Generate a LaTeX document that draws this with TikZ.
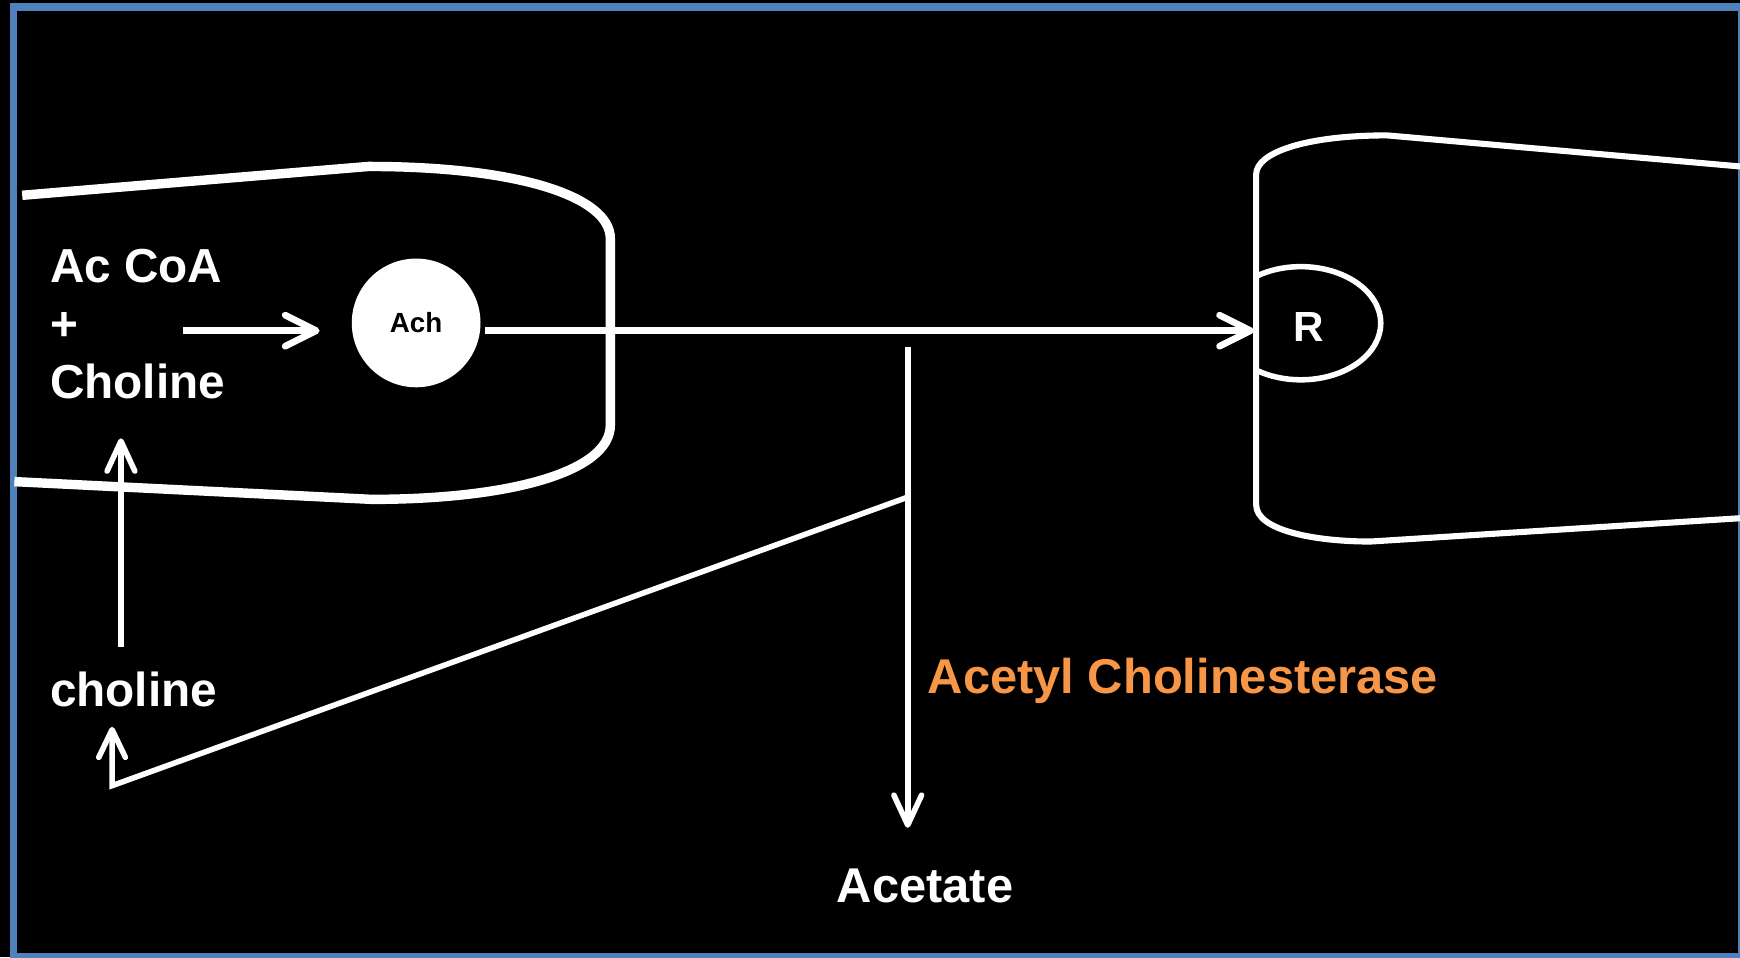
\documentclass[tikz,border=0pt]{standalone}
\usepackage{fontspec}
\setmainfont{Liberation Sans}
\usetikzlibrary{arrows.meta}
\definecolor{frameblue}{HTML}{4F81BD}
\definecolor{enzorange}{HTML}{F79646}
\begin{document}
\begin{tikzpicture}[x=1pt,y=-1pt,
  membL/.style={white, line width=8.5pt, line join=round},
  membR/.style={white, line width=5.5pt, line join=round},
  arr/.style={white, line width=6pt, -{Straight Barb[length=28pt,width=28pt,round]}},
  arrthin/.style={white, line width=5pt, -{Straight Barb[length=27pt,width=25pt,round]}},
  lbl/.style={text=white, font=\fontsize{43}{52}\selectfont\bfseries, inner sep=0pt, anchor=base west},
]
\fill[black] (0,0) rectangle (1568,862.4);
\useasboundingbox (0,0) rectangle (1568,862.4);
\draw[frameblue, line width=6.5pt] (12.3,6.3) rectangle (1569,862.4);

% presynaptic terminal
\draw[membL] (20,176) -- (332,150) .. controls (470,150) and (550,178) .. (550,215)
  -- (550,383) .. controls (550,425) and (460,450) .. (335,450) -- (13,434);

% postsynaptic cell
\draw[membR] (1568,150) -- (1250,122) .. controls (1175,122) and (1132,138) .. (1132,157)
  -- (1132,455) .. controls (1132,478) and (1185,488) .. (1235,488) -- (1568,467);
\draw[white, line width=5pt] (1132,249) arc[start angle=-124, end angle=124, x radius=72, y radius=51];

% nodes
\node[circle, fill=white, minimum size=116pt, inner sep=0pt, text=black,
      font=\fontsize{25}{30}\selectfont\bfseries] (ach) at (375,291) {Ach};
\node[text=white, font=\fontsize{38}{40}\selectfont\bfseries, inner sep=0pt] (r) at (1179,295) {R};

\node[lbl] (acoa) at (45,255) {Ac CoA};
\node[lbl] (plus) at (45,307) {+};
\node[lbl] (chol) at (45,359) {Choline};
\node[lbl] (choline) at (45,637) {choline};
\node[lbl, font=\fontsize{44}{52}\selectfont\bfseries] (acetate) at (754,813) {Acetate};
\node[lbl, text=enzorange, font=\fontsize{44}{52}\selectfont\bfseries] (ache) at (836,625) {Acetyl Cholinesterase};

% coordinates
\coordinate (p1) at (165,298);
\coordinate (p2) at (288,298);
\coordinate (q2) at (1130,298);
\coordinate (e1) at (818,313);
\coordinate (e2) at (818,746);
\coordinate (d1) at (818,448);
\coordinate (d2) at (101,708);
\coordinate (d3) at (101,655);
\coordinate (c1) at (109,583);
\coordinate (c2) at (109,395);

% connectors
\draw[arr] (p1) -- (p2);
\draw[arr] ([xshift=4pt,yshift=-7pt]ach.east) -- (q2);
\draw[arrthin] (e1) -- (e2);
\draw[white, line width=5pt, -{Straight Barb[length=25pt,width=24pt,round]}] (d1) -- (d2) -- (d3);
\draw[arrthin] (c1) -- (c2);
\end{tikzpicture}
\end{document}
